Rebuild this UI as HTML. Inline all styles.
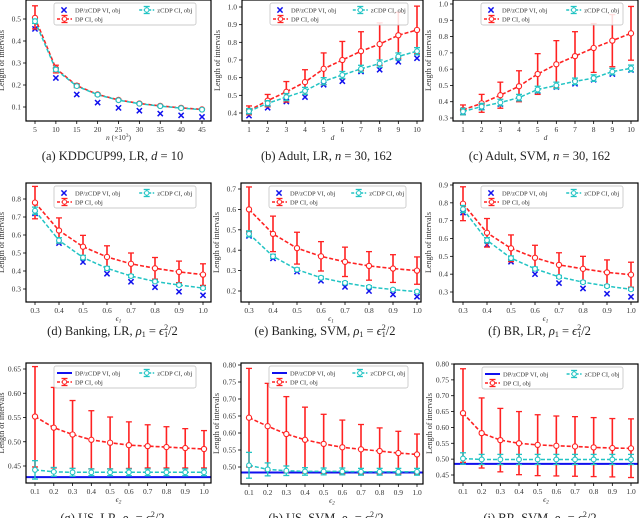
<!DOCTYPE html>
<html><head><meta charset="utf-8">
<style>
html,body{margin:0;padding:0;background:#fff;width:640px;height:518px;overflow:hidden}
svg{display:block;font-family:"Liberation Serif","DejaVu Serif",serif}
</style></head>
<body>
<svg id="fig" width="640" height="518" viewBox="0 0 640 518" xmlns="http://www.w3.org/2000/svg"></svg>
<script>
// ---- data (a) KDDCUP99 ----
const aX=[5,10,15,20,25,30,35,40,45];
const aDP=[0.505,0.275,0.197,0.157,0.132,0.116,0.105,0.096,0.089];
const aDPHi=[0.56,0.29,0.205,0.162,0.136,0.119,0.108,0.098,0.091];
const aDPLo=[0.455,0.255,0.188,0.152,0.128,0.113,0.102,0.094,0.087];
const aZ=[0.49,0.27,0.195,0.156,0.131,0.115,0.104,0.095,0.088];
const aZErr=[0.01,0.008,0.005,0.004,0.003,0.003,0.003,0.003,0.003];
const aVI=[0.455,0.232,0.157,0.12,0.096,0.083,0.07,0.062,0.055];
// ---- (b) Adult LR ----
const bX=[1,2,3,4,5,6,7,8,9,10];
const bDP=[0.415,0.47,0.52,0.575,0.65,0.70,0.75,0.79,0.84,0.87];
const bDPHi=[0.44,0.505,0.578,0.645,0.74,0.805,0.86,0.91,0.97,1.005];
const bDPLo=[0.39,0.435,0.462,0.505,0.56,0.595,0.64,0.67,0.71,0.735];
const bZ=[0.41,0.455,0.49,0.525,0.58,0.615,0.65,0.68,0.72,0.75];
const bZErr=[0.015,0.015,0.02,0.02,0.02,0.02,0.02,0.02,0.02,0.02];
const bVI=[0.385,0.43,0.465,0.49,0.56,0.58,0.635,0.645,0.69,0.71];
// ---- (c) Adult SVM ----
const cX=[1,2,3,4,5,6,7,8,9,10];
const cDP=[0.35,0.39,0.44,0.495,0.57,0.63,0.68,0.73,0.775,0.82];
const cDPHi=[0.38,0.445,0.52,0.59,0.695,0.775,0.83,0.88,0.935,0.985];
const cDPLo=[0.32,0.335,0.36,0.4,0.445,0.485,0.53,0.58,0.615,0.655];
const cZ=[0.34,0.37,0.395,0.425,0.475,0.5,0.525,0.545,0.585,0.605];
const cZErr=[0.02,0.02,0.02,0.02,0.02,0.02,0.02,0.02,0.02,0.02];
const cVI=[0.335,0.365,0.385,0.415,0.465,0.49,0.51,0.535,0.57,0.595];
// ---- (d) Banking LR ----
const dX=[0.3,0.4,0.5,0.6,0.7,0.8,0.9,1.0];
const dDP=[0.78,0.625,0.535,0.478,0.44,0.415,0.395,0.38];
const dDPHi=[0.87,0.695,0.598,0.54,0.5,0.475,0.455,0.44];
const dDPLo=[0.69,0.555,0.472,0.416,0.38,0.355,0.335,0.32];
const dZ=[0.735,0.57,0.475,0.415,0.372,0.342,0.322,0.305];
const dZErr=[0.02,0.015,0.012,0.01,0.008,0.007,0.006,0.006];
const dVI=[0.72,0.555,0.45,0.385,0.34,0.31,0.285,0.265];
// ---- (e) Banking SVM ----
const eX=[0.3,0.4,0.5,0.6,0.7,0.8,0.9,1.0];
const eDP=[0.6,0.48,0.41,0.37,0.343,0.323,0.31,0.3];
const eDPHi=[0.71,0.567,0.488,0.442,0.415,0.393,0.378,0.367];
const eDPLo=[0.49,0.393,0.332,0.298,0.271,0.253,0.242,0.233];
const eZ=[0.48,0.37,0.305,0.265,0.24,0.22,0.207,0.197];
const eZErr=[0.015,0.01,0.008,0.007,0.006,0.006,0.005,0.005];
const eVI=[0.47,0.36,0.295,0.25,0.22,0.2,0.183,0.172];
// ---- (f) BR LR ----
const fX=[0.3,0.4,0.5,0.6,0.7,0.8,0.9,1.0];
const fDP=[0.795,0.632,0.545,0.492,0.452,0.43,0.41,0.397];
const fDPHi=[0.89,0.712,0.62,0.562,0.52,0.5,0.48,0.467];
const fDPLo=[0.70,0.552,0.47,0.422,0.384,0.36,0.34,0.327];
const fZ=[0.765,0.59,0.49,0.43,0.385,0.355,0.333,0.315];
const fZErr=[0.02,0.015,0.012,0.01,0.008,0.007,0.006,0.006];
const fVI=[0.745,0.565,0.47,0.4,0.35,0.32,0.29,0.273];
// ---- (g) US LR ----
const gX=[0.1,0.2,0.3,0.4,0.5,0.6,0.7,0.8,0.9,1.0];
const gDP=[0.552,0.529,0.515,0.504,0.498,0.493,0.491,0.489,0.487,0.485];
const gDPHi=[0.655,0.612,0.585,0.564,0.551,0.541,0.535,0.531,0.527,0.523];
const gDPLo=[0.448,0.446,0.445,0.444,0.444,0.445,0.446,0.446,0.446,0.446];
const gZ=[0.442,0.438,0.437,0.437,0.437,0.437,0.437,0.437,0.437,0.437];
const gZErr=[0.019,0.009,0.008,0.007,0.007,0.007,0.007,0.007,0.007,0.007];
const gVI=0.427;
// ---- (h) US SVM ----
const hX=[0.1,0.2,0.3,0.4,0.5,0.6,0.7,0.8,0.9,1.0];
const hDP=[0.645,0.62,0.597,0.58,0.568,0.558,0.552,0.547,0.541,0.537];
const hDPHi=[0.79,0.746,0.707,0.676,0.655,0.638,0.625,0.615,0.605,0.597];
const hDPLo=[0.5,0.49,0.485,0.482,0.481,0.48,0.48,0.48,0.479,0.479];
const hZ=[0.505,0.493,0.489,0.487,0.487,0.487,0.486,0.486,0.486,0.486];
const hZErr=[0.038,0.019,0.014,0.011,0.01,0.01,0.01,0.01,0.01,0.01];
const hVI=0.484;
// ---- (i) BR SVM ----
const iX=[0.1,0.2,0.3,0.4,0.5,0.6,0.7,0.8,0.9,1.0];
const iDP=[0.645,0.582,0.56,0.55,0.545,0.542,0.54,0.537,0.535,0.534];
const iDPHi=[0.785,0.693,0.66,0.65,0.64,0.636,0.634,0.631,0.628,0.627];
const iDPLo=[0.49,0.472,0.46,0.451,0.448,0.447,0.446,0.445,0.444,0.442];
const iZ=[0.502,0.499,0.499,0.499,0.499,0.499,0.499,0.499,0.499,0.499];
const iZErr=[0.018,0.016,0.016,0.016,0.016,0.016,0.016,0.016,0.016,0.016];
const iVI=0.485;

const SVGNS="http://www.w3.org/2000/svg";
const fig=document.getElementById('fig');
function mk(tag,attrs,parent,text){const e=document.createElementNS(SVGNS,tag);for(const k in attrs)e.setAttribute(k,attrs[k]);if(text!==undefined)e.textContent=text;(parent||fig).appendChild(e);return e;}

const RHO='<tspan font-style="italic">ρ</tspan><tspan font-size="8" dy="2">1</tspan><tspan dy="-2"> = </tspan><tspan font-style="italic">ϵ</tspan><tspan font-size="8" dy="2">1</tspan><tspan font-size="8" dx="-4" dy="-7">2</tspan><tspan dy="5">/2</tspan>';
const E1='ϵ<tspan font-size="5.5" dy="1.5">1</tspan>', E2='ϵ<tspan font-size="5.5" dy="1.5">2</tspan>';
const panels=[
 {id:'a',box:[26,0,211,121],xm:[5,35,45,202],ym:[0.1,107,0.5,19],xt:[5,10,15,20,25,30,35,40,45],xf:v=>String(v),yt:[0.1,0.2,0.3,0.4,0.5],yf:v=>v.toFixed(1),xl:'n   <tspan font-style="normal">(×10</tspan><tspan font-style="normal" font-size="5.5" dy="-3">3</tspan><tspan font-style="normal" dy="3">)</tspan>',cap:'(a) KDDCUP99, LR, <tspan font-style="italic">d</tspan> = 10',capY:160,X:aX,DP:aDP,Hi:aDPHi,Lo:aDPLo,Z:aZ,ZE:aZErr,VI:aVI},
 {id:'b',box:[242,0,423,121],xm:[1,249,10,417],ym:[0.4,113,1.0,7],xt:bX,xf:v=>String(v),yt:[0.4,0.5,0.6,0.7,0.8,0.9,1.0],yf:v=>v.toFixed(1),xl:'d',cap:'(b) Adult, LR, <tspan font-style="italic">n</tspan> = 30, 162',capY:160,X:bX,DP:bDP,Hi:bDPHi,Lo:bDPLo,Z:bZ,ZE:bZErr,VI:bVI},
 {id:'c',box:[453,0,638,121],xm:[1,463,10,631],ym:[0.3,118,1.0,4],xt:cX,xf:v=>String(v),yt:[0.3,0.4,0.5,0.6,0.7,0.8,0.9,1.0],yf:v=>v.toFixed(1),xl:'d',cap:'(c) Adult, SVM, <tspan font-style="italic">n</tspan> = 30, 162',capY:160,X:cX,DP:cDP,Hi:cDPHi,Lo:cDPLo,Z:cZ,ZE:cZErr,VI:cVI},
 {id:'d',box:[26,183,211,302],xm:[0.3,35,1.0,203],ym:[0.3,289,0.8,199],xt:dX,xf:v=>v.toFixed(1),yt:[0.3,0.4,0.5,0.6,0.7,0.8],yf:v=>v.toFixed(1),xl:E1,cap:'(d) Banking, LR, '+RHO,capY:335,X:dX,DP:dDP,Hi:dDPHi,Lo:dDPLo,Z:dZ,ZE:dZErr,VI:dVI},
 {id:'e',box:[241,183,421,302],xm:[0.3,249,1.0,417],ym:[0.2,291,0.7,189],xt:eX,xf:v=>v.toFixed(1),yt:[0.2,0.3,0.4,0.5,0.6,0.7],yf:v=>v.toFixed(1),xl:E1,cap:'(e) Banking, SVM, '+RHO,capY:335,X:eX,DP:eDP,Hi:eDPHi,Lo:eDPLo,Z:eZ,ZE:eZErr,VI:eVI},
 {id:'f',box:[453,183,638,302],xm:[0.3,463,1.0,631],ym:[0.3,292,0.9,185],xt:fX,xf:v=>v.toFixed(1),yt:[0.3,0.4,0.5,0.6,0.7,0.8,0.9],yf:v=>v.toFixed(1),xl:E1,cap:'(f) BR, LR, '+RHO,capY:335,X:fX,DP:fDP,Hi:fDPHi,Lo:fDPLo,Z:fZ,ZE:fZErr,VI:fVI},
 {id:'g',box:[26,363,211,483],xm:[0.1,35,1.0,204],ym:[0.45,466,0.65,369],xt:gX,xf:v=>v.toFixed(1),yt:[0.45,0.5,0.55,0.6,0.65],yf:v=>v.toFixed(2),xl:E2,cap:'(g) US, LR, '+RHO,capY:522,X:gX,DP:gDP,Hi:gDPHi,Lo:gDPLo,Z:gZ,ZE:gZErr,VI:gVI},
 {id:'h',box:[241,363,423,484],xm:[0.1,249,1.0,417],ym:[0.5,467,0.8,365],xt:hX,xf:v=>v.toFixed(1),yt:[0.5,0.55,0.6,0.65,0.7,0.75,0.8],yf:v=>v.toFixed(2),xl:E2,cap:'(h) US, SVM, '+RHO,capY:522,X:hX,DP:hDP,Hi:hDPHi,Lo:hDPLo,Z:hZ,ZE:hZErr,VI:hVI},
 {id:'i',box:[454,364,638,483],xm:[0.1,463,1.0,631],ym:[0.45,475,0.8,364],xt:iX,xf:v=>v.toFixed(1),yt:[0.45,0.5,0.55,0.6,0.65,0.7,0.75,0.8],yf:v=>v.toFixed(2),xl:E2,cap:'(i) BR, SVM, '+RHO,capY:522,X:iX,DP:iDP,Hi:iDPHi,Lo:iDPLo,Z:iZ,ZE:iZErr,VI:iVI}
];

const RED='#ff2222',CY='#22c4c4',BLUE='#1010ee';

function drawErr(g,xp,y1,y2,color,w){
  mk('line',{x1:xp,x2:xp,y1:y1,y2:y2,stroke:color,'stroke-width':w},g);
  mk('line',{x1:xp-3,x2:xp+3,y1:y1,y2:y1,stroke:color,'stroke-width':1.3},g);
  mk('line',{x1:xp-3,x2:xp+3,y1:y2,y2:y2,stroke:color,'stroke-width':1.3},g);
}
function xMark(g,xp,yp){
  const s=2.6;
  return mk('path',{d:`M${xp-s},${yp-s}L${xp+s},${yp+s}M${xp-s},${yp+s}L${xp+s},${yp-s}`,stroke:BLUE,'stroke-width':1.5},g);
}

panels.forEach(p=>{
  const [L,T,R,B]=p.box;
  const sx=v=>p.xm[1]+(v-p.xm[0])*(p.xm[3]-p.xm[1])/(p.xm[2]-p.xm[0]);
  const sy=v=>p.ym[1]+(v-p.ym[0])*(p.ym[3]-p.ym[1])/(p.ym[2]-p.ym[0]);
  const g=mk('g',{});
  
  
  const clipId='clip'+p.id;
  const cp=mk('clipPath',{id:clipId},g);mk('rect',{x:L,y:T,width:R-L,height:B-T},cp);
  const ta=mk('g',{},g);
  
  
  p.xt.forEach(v=>{const xp=sx(v);
    mk('line',{x1:xp,x2:xp,y1:B,y2:B+3,stroke:'#000','stroke-width':0.8},ta);
    mk('text',{x:xp,y:B+11,'font-size':7.5,'text-anchor':'middle',fill:'#333'},ta,p.xf(v));});
  const xl=mk('text',{x:(L+R)/2,y:B+19,'font-size':7.5,'text-anchor':'middle','font-style':'italic',fill:'#333'},g);
  xl.innerHTML=p.xl;
  
  
  const ya=mk('g',{},g);
  
  
  p.yt.forEach(v=>{const yp=sy(v);
    mk('line',{x1:L-3,x2:L,y1:yp,y2:yp,stroke:'#000','stroke-width':0.8},ya);
    mk('text',{x:L-5,y:yp+2.5,'font-size':7.5,'text-anchor':'end',fill:'#333'},ya,p.yf(v));});
  const ylx=L-22;
  const yl=mk('text',{x:ylx,y:(T+B)/2,'font-size':8,'text-anchor':'middle',fill:'#333',transform:`rotate(-90 ${ylx} ${(T+B)/2})`},g,'Length of intervals');
  
  
  const sg=mk('g',{'clip-path':`url(#${clipId})`},g);
  if(Array.isArray(p.VI)){
    p.VI.forEach((v,i)=>{const m=xMark(sg,sx(p.X[i]),sy(v));
      
      });
  } else {
    const ln=mk('line',{x1:L,x2:R,y1:sy(p.VI),y2:sy(p.VI),stroke:BLUE,'stroke-width':2},sg);
    
    
  }
  p.X.forEach((x,i)=>drawErr(sg,sx(x),sy(p.Hi[i]),sy(p.Lo[i]),RED,1.6));
  const dpPts=p.X.map((x,i)=>sx(x)+','+sy(p.DP[i])).join(' ');
  const dl=mk('polyline',{points:dpPts,fill:'none',stroke:RED,'stroke-width':1.6,'stroke-dasharray':'4,2'},sg);
  
  
  p.X.forEach((x,i)=>{const c=mk('circle',{cx:sx(x),cy:sy(p.DP[i]),r:2.6,fill:'#fff',stroke:RED,'stroke-width':1.1},sg);
    
    });
  p.X.forEach((x,i)=>drawErr(sg,sx(x),sy(p.Z[i]+p.ZE[i]),sy(p.Z[i]-p.ZE[i]),CY,1.4));
  const zPts=p.X.map((x,i)=>sx(x)+','+sy(p.Z[i])).join(' ');
  const zl=mk('polyline',{points:zPts,fill:'none',stroke:CY,'stroke-width':1.5,'stroke-dasharray':'4,2'},sg);
  
  
  p.X.forEach((x,i)=>{const c=mk('circle',{cx:sx(x),cy:sy(p.Z[i]),r:2.4,fill:'#fff',stroke:CY,'stroke-width':1.1},sg);
    
    });
  mk('rect',{x:L,y:T,width:R-L,height:B-T,fill:'none',stroke:'#000','stroke-width':1.2},g);
  const lg=mk('g',{},g);
  
  
  const lx=L+28, lw=R-L-43, ly=T+3;
  mk('rect',{x:lx,y:ly,width:lw,height:22,fill:'#fff','fill-opacity':0.85,stroke:'#bbb','stroke-width':0.7,rx:2},lg);
  const e1=mk('g',{},lg);
  
  
  if(Array.isArray(p.VI)) xMark(e1,lx+10,ly+7);
  else mk('line',{x1:lx+3,x2:lx+18,y1:ly+7,y2:ly+7,stroke:BLUE,'stroke-width':2},e1);
  mk('text',{x:lx+21,y:ly+9.5,'font-size':6.5,fill:'#333'},e1,'DP/zCDP VI, obj');
  const e2=mk('g',{},lg);
  
  
  const zx=lx+lw*0.6;
  mk('line',{x1:zx,x2:zx+15,y1:ly+7,y2:ly+7,stroke:CY,'stroke-width':1.5,'stroke-dasharray':'3,1.5'},e2);
  drawErr(e2,zx+7.5,ly+3.5,ly+10.5,CY,1.2);
  mk('circle',{cx:zx+7.5,cy:ly+7,r:2.2,fill:'#fff',stroke:CY,'stroke-width':1},e2);
  mk('text',{x:zx+18,y:ly+9.5,'font-size':6.5,fill:'#333'},e2,'zCDP CI, obj');
  const e3=mk('g',{},lg);
  
  
  mk('line',{x1:lx+3,x2:lx+18,y1:ly+16,y2:ly+16,stroke:RED,'stroke-width':1.6,'stroke-dasharray':'3,1.5'},e3);
  drawErr(e3,lx+10.5,ly+12.5,ly+19.5,RED,1.2);
  mk('circle',{cx:lx+10.5,cy:ly+16,r:2.2,fill:'#fff',stroke:RED,'stroke-width':1},e3);
  mk('text',{x:lx+21,y:ly+18.5,'font-size':6.5,fill:'#333'},e3,'DP CI, obj');
  const cap=mk('text',{x:(L+R)/2-6,y:p.capY,'font-size':12.5,'text-anchor':'middle',fill:'#222'},g);
  cap.innerHTML=p.cap;
  
  
});
</script>
</body></html>
